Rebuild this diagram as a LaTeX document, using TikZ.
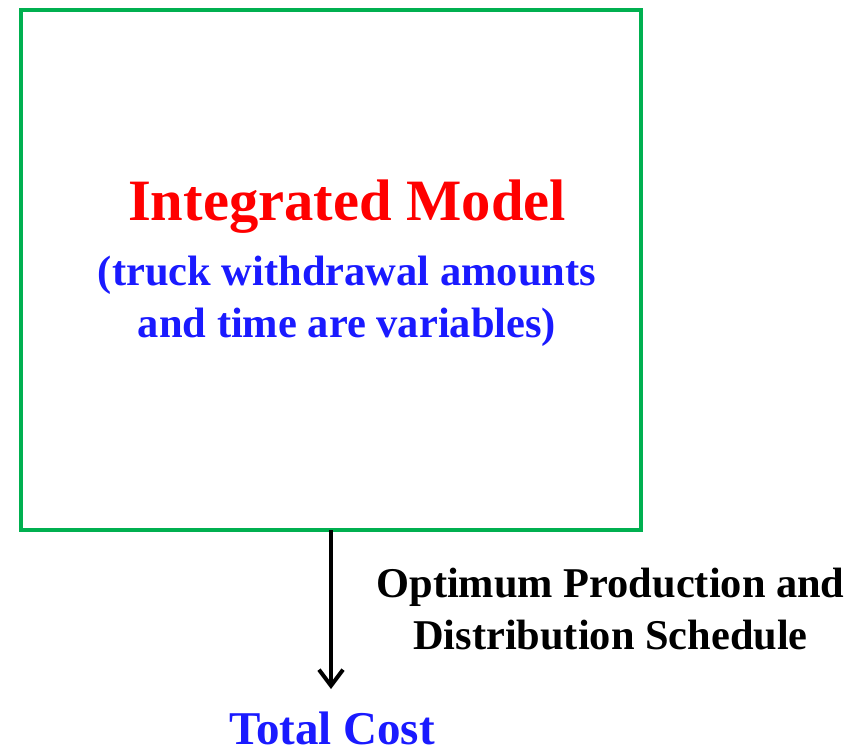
\documentclass[tikz,border=0pt]{standalone}
\usepackage{fontspec}
\setmainfont{Liberation Serif}
\usetikzlibrary{arrows.meta}
\definecolor{boxgreen}{HTML}{00B050}
\definecolor{txtblue}{HTML}{1A1AFF}
\begin{document}
\begin{tikzpicture}[x=1pt,y=-1pt,
  txt/.style={inner sep=0pt, anchor=base, font=\bfseries},
  conn/.style={line width=4pt, -{Straight Barb[length=16pt,width=24pt,line width=4pt]}}]
\useasboundingbox (0,0) rectangle (867,750);
\draw[boxgreen, line width=4pt] (21,10) rectangle (641,530);
\coordinate (boxbottom) at (331,530);
\node[txt, text=red, font=\fontsize{58.6}{60}\bfseries\selectfont] (title) at (347,220) {Integrated Model};
\node[txt, text=txtblue, font=\fontsize{42.5}{44}\bfseries\selectfont] (sub1) at (347,285) {(truck withdrawal amounts};
\node[txt, text=txtblue, font=\fontsize{42.5}{44}\bfseries\selectfont] (sub2) at (347,337) {and time are variables)};
\node[txt, font=\fontsize{42.4}{44}\bfseries\selectfont] (lab1) at (610.5,597) {Optimum Production and};
\node[txt, font=\fontsize{42.4}{44}\bfseries\selectfont] (lab2) at (610.5,649) {Distribution Schedule};
\node[txt, text=txtblue, font=\fontsize{47}{48}\bfseries\selectfont] (total) at (332,744) {Total Cost};
\coordinate (arrowend) at (331,689);
\draw[conn] (boxbottom) -- (arrowend);
\end{tikzpicture}
\end{document}
